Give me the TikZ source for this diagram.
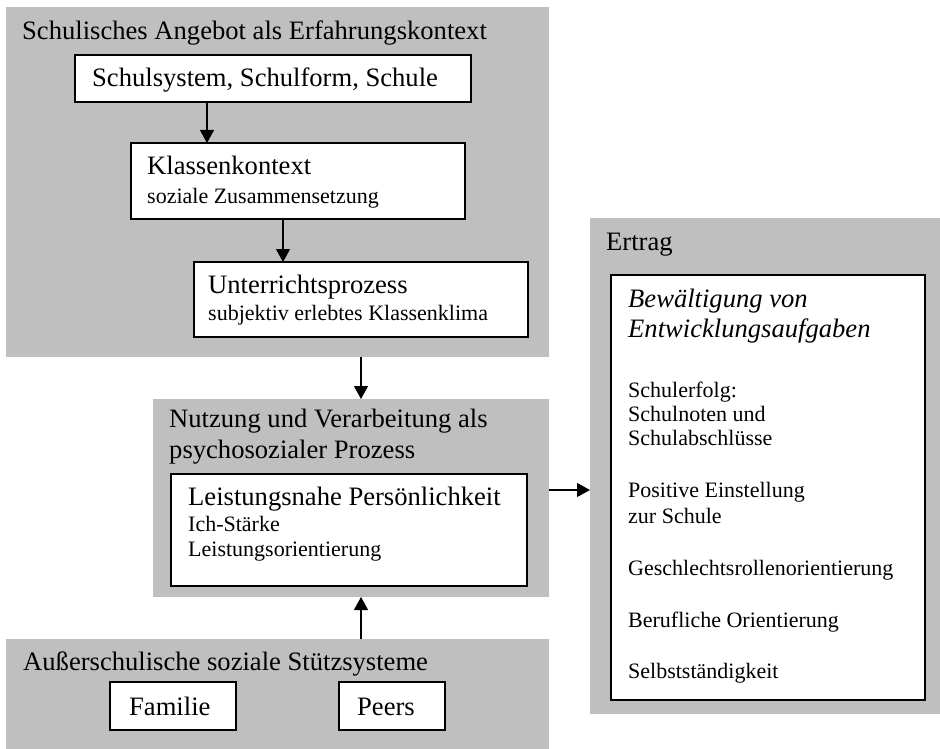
\documentclass[tikz,border=0pt]{standalone}
\usepackage{fontspec}
\setmainfont{Liberation Serif}
\usetikzlibrary{arrows.meta}
\definecolor{boxgray}{RGB}{191,191,191}
\begin{document}
\begin{tikzpicture}[x=1pt,y=-1pt,
  gbox/.style={fill=boxgray, draw=none, anchor=north west, inner sep=0pt, outer sep=0pt},
  wbox/.style={fill=white, draw=black, line width=1.2pt, anchor=north west, inner sep=0pt, outer sep=0pt},
  big/.style={anchor=base west, inner sep=0pt, font=\fontsize{26.6}{30.6}\selectfont},
  bigit/.style={big, font=\fontsize{26.6}{30.6}\selectfont\itshape},
  small/.style={anchor=base west, inner sep=0pt, font=\fontsize{22}{25}\selectfont},
  arr/.style={line width=1.2pt, -{Triangle[length=13pt,width=14pt]}}
]
\useasboundingbox (0,0) rectangle (940,749);

% gray panels
\node[gbox, minimum width=543, minimum height=350] (G1) at (6,7) {};
\node[gbox, minimum width=396, minimum height=198] (G2) at (153,399) {};
\node[gbox, minimum width=543, minimum height=110] (G3) at (6,639) {};
\node[gbox, minimum width=350, minimum height=496] (G4) at (590,218) {};

% white boxes
\node[wbox, minimum width=396, minimum height=47] (A) at (75,55) {};
\node[wbox, minimum width=334, minimum height=76] (B) at (131,143) {};
\node[wbox, minimum width=334, minimum height=75] (C) at (194,262) {};
\node[wbox, minimum width=356, minimum height=112] (D) at (171,474) {};
\node[wbox, minimum width=126, minimum height=48] (F) at (110,682) {};
\node[wbox, minimum width=106, minimum height=48] (P) at (339,682) {};
\node[wbox, minimum width=314, minimum height=425] (E) at (611,275) {};

% texts
\node[big] (t1) at (22,40) {Schulisches Angebot als Erfahrungskontext};
\node[big] (tA) at (92,87) {Schulsystem, Schulform, Schule};
\node[big] (tB1) at (147,175) {Klassenkontext};
\node[small] (tB2) at (147,204) {soziale Zusammensetzung};
\node[big] (tC1) at (208,293) {Unterrichtsprozess};
\node[small] (tC2) at (208,320) {subjektiv erlebtes Klassenklima};
\node[big] (t2a) at (169,427) {Nutzung und Verarbeitung als};
\node[big] (t2b) at (169,458) {psychosozialer Prozess};
\node[big] (tD1) at (188,505) {Leistungsnahe Persönlichkeit};
\node[small] (tD2) at (188,531) {Ich-Stärke};
\node[small] (tD3) at (188,556) {Leistungsorientierung};
\node[big] (t3) at (23,670) {Außerschulische soziale Stützsysteme};
\node[big] (tF) at (129,715) {Familie};
\node[big] (tP) at (357,715) {Peers};
\node[big] (t4) at (606,250) {Ertrag};
\node[bigit] (tE1) at (628,307) {Bewältigung von};
\node[bigit] (tE2) at (628,337) {Entwicklungsaufgaben};
\node[small] (tE3) at (628,397) {Schulerfolg:};
\node[small] (tE4) at (628,421) {Schulnoten und};
\node[small] (tE5) at (628,445) {Schulabschlüsse};
\node[small] (tE6) at (628,497) {Positive Einstellung};
\node[small] (tE7) at (628,523) {zur Schule};
\node[small] (tE8) at (628,575) {Geschlechtsrollenorientierung};
\node[small] (tE9) at (628,627) {Berufliche Orientierung};
\node[small] (tE10) at (628,678) {Selbstständigkeit};

% connector guides
\coordinate (xa) at (207,0);
\coordinate (xb) at (283,0);
\coordinate (xc) at (361,0);
\coordinate (ye) at (0,490);

% arrows
\draw[arr] (A.south -| xa) -- (B.north -| xa);
\draw[arr] (B.south -| xb) -- (C.north -| xb);
\draw[arr] (G1.south -| xc) -- (G2.north -| xc);
\draw[arr] (G3.north -| xc) -- (G2.south -| xc);
\draw[arr] (G2.east |- ye) -- (G4.west |- ye);
\end{tikzpicture}
\end{document}
